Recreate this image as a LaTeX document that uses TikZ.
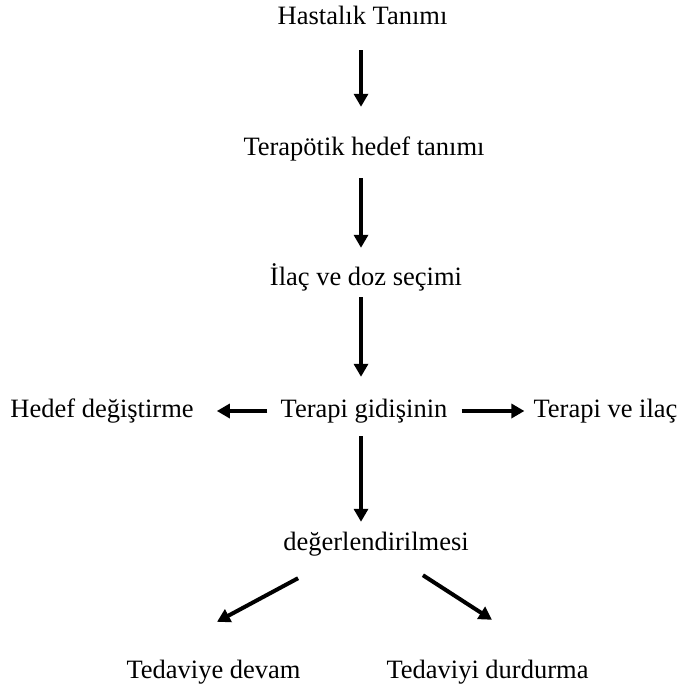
\documentclass[tikz,border=0pt]{standalone}
\usepackage{fontspec}
\setmainfont{Liberation Serif}
\usetikzlibrary{arrows.meta,calc}

\begin{document}
\begin{tikzpicture}[x=1pt,y=-1pt,
  lbl/.style={inner sep=0pt, anchor=base, text height=18pt, text depth=6pt,
              font=\fontsize{26.5}{30}\selectfont},
  arr/.style={line width=4pt, -{Triangle[length=13pt,width=14pt]}}]
  \useasboundingbox (0,0) rectangle (679,690);

  % vertical axis of the main chain
  \coordinate (ax) at (361,0);

  % labels
  \node[lbl] (t1) at (362.5,25) {Hastalık Tanımı};
  \node[lbl] (t2) at (364,155) {Terapötik hedef tanımı};
  \node[lbl] (t3) at (366,285) {İlaç ve doz seçimi};
  \node[lbl] (t4) at (364,417) {Terapi gidişinin};
  \node[lbl] (tl) at (102,417) {Hedef değiştirme};
  \node[lbl] (tr) at (605.5,417) {Terapi ve ilaç};
  \node[lbl] (t5) at (376,550) {değerlendirilmesi};
  \node[lbl] (t6a) at (213.5,678) {Tedaviye devam};
  \node[lbl] (t6b) at (487.5,678) {Tedaviyi durdurma};

  % main chain
  \draw[arr, shorten <=19pt, shorten >=30pt] (t1.south -| ax) -- (t2.north -| ax);
  \draw[arr, shorten <=17pt, shorten >=19pt] (t2.south -| ax) -- (t3.north -| ax);
  \draw[arr, shorten <=6pt,  shorten >=22pt] (t3.south -| ax) -- (t4.north -| ax);
  \draw[arr, shorten <=13pt, shorten >=10pt] (t4.south -| ax) -- (t5.north -| ax);

  % side branches
  \draw[arr, shorten <=13pt, shorten >=23pt] (t4.west) -- (tl.east);
  \draw[arr, shorten <=14pt, shorten >=9pt]  (t4.east) -- (tr.west);

  % outcomes
  \draw[arr] ($(t5.south west)+(15,22)$) -- ($(t6a.north)+(3.5,-38)$);
  \draw[arr] ($(t5.south east)+(-46,19)$) -- ($(t6b.north)+(4.5,-40)$);
\end{tikzpicture}
\end{document}
